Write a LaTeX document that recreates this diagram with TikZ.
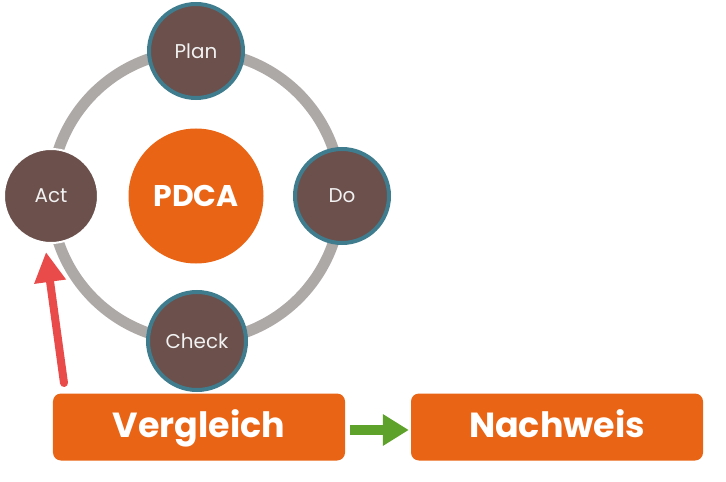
\documentclass[tikz,border=0pt]{standalone}
\usepackage{fontspec}
\setsansfont{Poppins}
\usetikzlibrary{arrows.meta,calc}
\definecolor{ringgray}{HTML}{ADA9A7}
\definecolor{stepbrown}{HTML}{6B504C}
\definecolor{stepteal}{HTML}{3E7C8E}
\definecolor{pdcaorange}{HTML}{E96414}
\definecolor{arrowred}{HTML}{E84B4A}
\definecolor{arrowgreen}{HTML}{5FA22B}
\begin{document}
\begin{tikzpicture}[x=1bp,y=-1bp,font=\sffamily,
phase/.style={circle,fill=stepbrown,draw=stepteal,line width=4bp,minimum size=94bp,
  text=white!90!gray,font=\sffamily\fontsize{20}{24}\selectfont},
box/.style={rounded corners=8bp,fill=pdcaorange,minimum width=292bp,minimum height=67bp,
  text height=25bp,text depth=5bp,
  text=white,font=\sffamily\bfseries\fontsize{35}{40}\selectfont}]
\useasboundingbox (0,0) rectangle (726,482);
\coordinate (hub) at (196,196);
\draw[ringgray,line width=11bp] (hub) circle[radius=145];
\node[circle,fill=pdcaorange,minimum size=135bp,text=white,
  font=\sffamily\bfseries\fontsize{30}{34}\selectfont] (pdca) at (hub) {PDCA};
\node[phase] (plan) at (196,51) {Plan};
\node[phase] (do) at (342,196) {Do};
\node[phase,minimum size=98bp] (check) at (197,341) {Check};
\node[phase,draw=white,line width=2bp] (act) at (51,196) {Act};
\node[box] (vergleich) at (199,427) {Vergleich};
\node[box] (nachweis) at (557,427) {Nachweis};
% arrows
\coordinate (redtail) at (64,383);
\draw[arrowred,line width=8bp,line cap=round,-{Triangle[width=30bp,length=30bp]}]
  (redtail) -- ($(act.south)+(-5,8)$);
\draw[arrowgreen,line width=10bp,-{Triangle[width=30bp,length=26bp]}]
  ($(vergleich.east)+(5,3)$) -- ($(nachweis.west)+(-2,3)$);
\end{tikzpicture}
\end{document}
